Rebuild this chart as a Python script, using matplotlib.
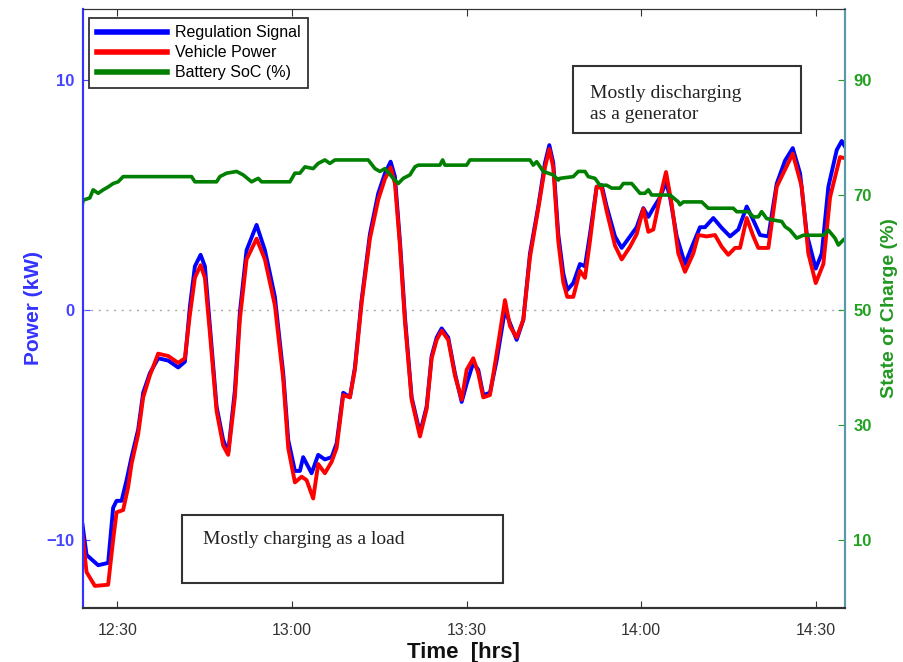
import matplotlib
matplotlib.use('Agg')
import matplotlib.pyplot as plt
from matplotlib.lines import Line2D
from matplotlib.patches import Rectangle

plt.rcParams['font.family'] = ['Liberation Sans', 'DejaVu Sans']

# time in minutes after 12:00
reg_time = [24.0, 24.69, 26.68, 28.40, 29.26, 29.85, 30.71, 31.57, 32.42, 33.56, 34.42, 35.57, 37.0, 38.72,
            40.44, 41.59, 42.45, 43.31, 44.29, 45.03, 45.89, 47.04, 48.17, 49.03, 50.18, 51.04, 52.19, 53.91,
            55.34, 56.2, 57.06, 58.49, 59.35, 60.5, 61.36, 61.92, 63.37, 64.5, 65.65, 66.81, 67.67, 68.8,
            69.95, 70.81, 71.96, 73.39, 74.82, 75.97, 76.95, 77.69, 78.55, 79.41, 80.56, 81.99, 83.14, 84.0,
            84.86, 85.72, 86.85, 88.0, 89.16, 90.02, 91.15, 92.01, 92.87, 94.02, 95.17, 96.6, 97.46, 98.61,
            99.75, 100.9, 102.32, 103.48, 104.22, 104.9, 105.76, 106.62, 107.31, 108.34, 109.49, 110.35,
            111.21, 112.36, 113.22, 114.08, 115.51, 116.66, 118.09, 119.24, 120.38, 121.24, 122.1, 123.25,
            124.28, 124.97, 126.12, 127.54, 128.97, 130.12, 130.98, 132.41, 133.85, 135.28, 136.71, 138.15,
            139.29, 140.44, 141.87, 143.31, 144.74, 146.06, 147.32, 148.47, 150.01, 151.05, 152.18, 153.62,
            154.48, 155.05]
reg_power = [-9.35, -10.65, -11.1, -11.0, -8.6, -8.3, -8.3, -7.4, -6.4, -5.2, -3.6, -2.75, -2.1, -2.2,
             -2.5, -2.25, 0.15, 1.9, 2.4, 1.9, -0.7, -4.2, -5.65, -6.2, -3.5, -0.1, 2.6, 3.7,
             2.6, 1.6, 0.57, -2.75, -5.65, -7.0, -7.0, -6.4, -7.1, -6.3, -6.5, -6.4, -5.8, -3.6,
             -3.8, -2.5, 0.43, 3.3, 5.07, 5.94, 6.45, 5.8, 3.0, -0.3, -3.8, -5.35, -4.2, -2.0,
             -1.2, -0.8, -1.2, -2.75, -4.0, -3.2, -2.3, -2.6, -3.7, -3.6, -2.2, 0.0, -0.57, -1.3,
             -0.43, 2.46, 4.5, 6.4, 7.17, 6.4, 3.3, 1.6, 0.87, 1.17, 2.0, 1.9,
             3.3, 5.36, 5.43, 4.5, 3.2, 2.7, 3.2, 3.6, 4.43, 4.05, 4.43, 4.9,
             5.57, 4.9, 3.2, 2.0, 2.9, 3.6, 3.6, 4.0, 3.57, 3.2, 3.5, 4.5,
             3.9, 3.26, 3.2, 5.5, 6.5, 7.04, 5.94, 3.3, 1.8, 2.46, 5.36, 6.96,
             7.35, 7.1]

veh_time = [24.0, 24.69, 26.12, 28.40, 29.26, 29.85, 30.98, 31.84, 32.42, 33.56, 34.42, 35.57, 37.0, 38.72,
            40.44, 41.59, 42.45, 43.31, 44.29, 45.03, 45.89, 47.04, 48.17, 49.03, 50.18, 51.04, 52.19, 53.91,
            55.34, 56.2, 57.06, 58.49, 59.35, 60.5, 61.65, 62.51, 63.64, 64.5, 65.65, 66.81, 67.67, 68.8,
            69.95, 70.81, 71.96, 73.39, 74.82, 75.97, 76.95, 77.69, 78.55, 79.41, 80.56, 81.99, 83.14, 84.0,
            84.86, 85.72, 86.85, 88.0, 89.16, 90.02, 91.15, 92.01, 92.87, 94.02, 95.17, 96.6, 97.46, 98.61,
            99.75, 100.9, 102.32, 103.48, 104.22, 104.9, 105.76, 106.62, 107.31, 108.34, 109.49, 110.35,
            111.21, 112.36, 113.22, 114.08, 115.51, 116.66, 118.09, 119.24, 120.38, 121.24, 122.1, 123.25,
            124.28, 125.26, 126.39, 127.54, 128.97, 129.83, 131.27, 132.7, 133.85, 134.98, 136.14, 137.0,
            138.15, 139.29, 140.14, 141.87, 143.31, 146.06, 147.6, 148.74, 150.01, 151.32, 152.47, 154.18,
            155.05]
veh_power = [-9.8, -11.4, -12.0, -11.95, -10.0, -8.8, -8.7, -7.7, -6.7, -5.4, -3.8, -2.85, -1.9, -2.0,
             -2.3, -2.1, -0.2, 1.4, 1.95, 1.4, -1.0, -4.4, -5.9, -6.3, -3.8, -0.4, 2.2, 3.1,
             2.2, 1.2, 0.2, -3.0, -6.0, -7.5, -7.25, -7.4, -8.2, -6.7, -7.1, -6.6, -6.0, -3.7,
             -3.8, -2.6, 0.3, 3.1, 4.8, 5.7, 6.2, 5.5, 2.8, -0.5, -3.9, -5.5, -4.3, -2.1,
             -1.3, -0.9, -1.3, -2.85, -3.9, -2.6, -2.1, -2.75, -3.8, -3.7, -1.9, 0.43, -0.7, -1.2,
             -0.43, 2.3, 4.4, 6.2, 7.0, 6.2, 3.0, 1.2, 0.57, 0.57, 1.7, 1.4,
             3.0, 5.36, 5.3, 4.3, 2.8, 2.2, 2.75, 3.3, 4.4, 3.4, 3.5, 4.9,
             6.0, 4.6, 2.46, 1.66, 2.46, 3.26, 3.2, 3.26, 2.75, 2.4, 2.7, 2.7,
             4.0, 3.2, 2.7, 2.7, 5.36, 6.8, 5.36, 2.46, 1.17, 2.0, 4.9, 6.65,
             6.6]

soc_time = [24.0, 24.1, 25.26, 25.82, 26.68, 27.54, 28.4, 29.26, 30.12, 30.98, 42.74, 43.31, 47.04, 47.6,
            48.76, 50.48, 51.61, 53.05, 54.19, 54.77, 59.64, 60.5, 61.36, 62.22, 63.64, 64.5, 65.65, 66.51,
            67.37, 73.1, 74.25, 75.11, 75.97, 77.4, 78.26, 79.12, 80.27, 81.13, 81.7, 85.42, 85.89, 86.28,
            90.02, 90.58, 100.9, 101.47, 102.05, 103.19, 104.9, 105.76, 106.05, 108.34, 109.2, 110.35,
            110.92, 112.07, 112.93, 114.08, 114.94, 116.37, 116.94, 118.38, 119.8, 120.66, 121.24, 121.82,
            124.97, 126.39, 126.68, 127.25, 130.41, 131.54, 135.84, 136.43, 138.43, 139.29, 140.14, 140.72,
            141.58, 142.72, 144.16, 144.74, 145.59, 146.74, 147.88, 151.32, 152.18, 153.32, 153.9, 154.76]
soc_pct = [68.55, 69.1, 69.5, 70.9, 70.3, 70.9, 71.4, 72.0, 72.3, 73.2, 73.2, 72.3, 72.3, 73.2,
           73.8, 74.1, 73.5, 72.3, 72.9, 72.3, 72.3, 73.8, 73.8, 74.9, 74.6, 75.5, 76.1, 75.5,
           76.1, 76.1, 74.6, 74.1, 74.6, 72.9, 72.0, 72.9, 73.5, 74.9, 75.2, 75.2, 76.1, 75.2,
           75.2, 76.1, 76.1, 75.2, 75.8, 74.1, 73.5, 72.6, 72.9, 73.2, 74.1, 74.1,
           73.2, 72.9, 71.7, 71.7, 71.2, 71.2, 72.0, 72.0, 70.3, 70.3, 70.9, 70.0,
           70.0, 68.8, 68.3, 68.8, 68.8, 67.7, 67.7, 67.1, 67.1, 66.2, 66.2, 67.1,
           65.9, 65.65, 65.4, 64.5, 63.9, 62.5, 63.0, 63.0, 63.9, 62.5, 61.3, 62.2]

tick_minutes = [30, 60, 90, 120, 150]
tick_labels = ['12:30', '13:00', '13:30', '14:00', '14:30']
power_ticks = [-10, 0, 10]
soc_ticks = [10, 30, 50, 70, 90]

BLUE = '#0000ff'
RED = '#ff0000'
GREEN = '#008000'

fig = plt.figure(figsize=(9.04, 6.62), dpi=100)
ax = fig.add_axes([0.0913, 0.0816, 0.8435, 0.9048])
ax2 = ax.twinx()

ax.axhline(0, color='#aaaaaa', linestyle=(0, (1.5, 4)), linewidth=1)
ax.plot(reg_time, reg_power, color=BLUE, linewidth=2.8)
ax.plot(veh_time, veh_power, color=RED, linewidth=2.8)
ax2.plot(soc_time, soc_pct, color=GREEN, linewidth=2.6)

ax.set_xlim(24, 155.05)
ax.set_ylim(-12.96, 13.09)
ax2.set_ylim(50 + 4 * -12.96, 50 + 4 * 13.09)

ax.set_xticks(tick_minutes)
ax.set_xticklabels(tick_labels)
ax.set_yticks(power_ticks)
ax2.set_yticks(soc_ticks)

ax.tick_params(axis='x', direction='in', top=True, length=5, labelsize=11.5, colors='#333333', pad=11)
ax.tick_params(axis='y', direction='in', length=5, labelsize=12, colors='#4444ff', pad=6)
ax2.tick_params(axis='y', direction='in', length=5, labelsize=12, colors='#22a022', pad=6)
for lab in ax.get_yticklabels() + ax2.get_yticklabels():
    lab.set_fontweight('bold')

for a in (ax, ax2):
    a.spines['top'].set_color('#333333')
    a.spines['bottom'].set_color('#333333')
    a.spines['bottom'].set_linewidth(1.5)
    a.spines['left'].set_color('#3333ff')
    a.spines['left'].set_linewidth(1.5)
    a.spines['right'].set_color('#5a9aa8')
    a.spines['right'].set_linewidth(1.5)

ax.set_xlabel('Time  [hrs]', fontsize=16, fontweight='bold', color='#111111', labelpad=3)
ax.set_ylabel('Power (kW)', fontsize=15, fontweight='bold', color='#3333ff', labelpad=2)
ax2.set_ylabel('State of Charge (%)', fontsize=14, fontweight='bold', color='#229922', labelpad=7)

handles = [Line2D([0], [0], color=BLUE, lw=4, label='Regulation Signal'),
           Line2D([0], [0], color=RED, lw=4, label='Vehicle Power'),
           Line2D([0], [0], color=GREEN, lw=4, label='Battery SoC (%)')]
leg = ax2.legend(handles=handles, loc='upper left', bbox_to_anchor=(0.009, 0.985), fontsize=11.5,
                 fancybox=False, edgecolor='#333333', framealpha=1, handlelength=4.4,
                 handletextpad=0.5, labelspacing=0.32, borderpad=0.45, borderaxespad=0)
leg.get_frame().set_linewidth(1.3)

# annotation boxes
fig.patches.append(Rectangle((573 / 904, 1 - 133 / 662), 228 / 904, 67 / 662, transform=fig.transFigure,
                             facecolor='white', edgecolor='#333333', linewidth=1.5, zorder=5))
fig.text(590 / 904, 1 - 104 / 662, 'Mostly discharging\nas a generator', family='Liberation Serif',
         fontsize=14, color='#222222', va='center', ha='left', linespacing=1.25, zorder=6)
fig.patches.append(Rectangle((182 / 904, 1 - 583 / 662), 321 / 904, 68 / 662, transform=fig.transFigure,
                             facecolor='white', edgecolor='#333333', linewidth=1.5, zorder=5))
fig.text(203 / 904, 1 - 540 / 662, 'Mostly charging as a load', family='Liberation Serif',
         fontsize=14, color='#222222', va='center', ha='left', zorder=6)

fig.savefig('out.png', dpi=100)
